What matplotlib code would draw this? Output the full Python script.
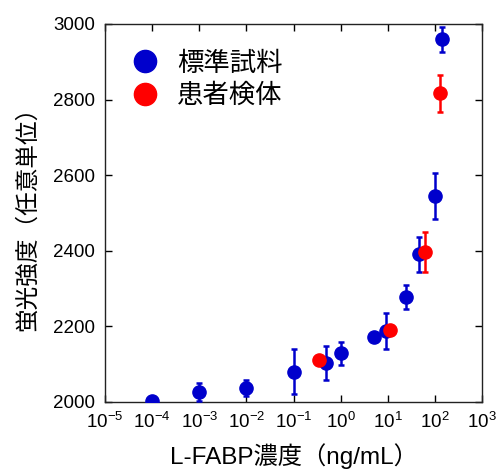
import matplotlib
matplotlib.use("Agg")
import matplotlib.pyplot as plt
import numpy as np

plt.rcParams['font.family'] = ['Liberation Sans', 'Noto Sans CJK JP', 'DejaVu Sans']
plt.rcParams['mathtext.fontset'] = 'custom'
plt.rcParams['mathtext.rm'] = 'Liberation Sans'
plt.rcParams['mathtext.it'] = 'Liberation Sans'
plt.rcParams['mathtext.default'] = 'regular'

std_x = [1e-4, 1e-3, 1e-2, 1e-1, 0.48, 1.0, 5.0, 9.0, 24, 45, 100, 140]
std_y = [2003, 2027, 2036, 2080, 2102, 2129, 2172, 2188, 2278, 2391, 2545, 2959]
std_err = [3, 24, 21, 60, 45, 30, 10, 47, 31, 46, 62, 33]

pat_x = [0.34, 11, 62, 128]
pat_y = [2111, 2190, 2398, 2817]
pat_err = [0, 0, 53, 49]

legend_labels = ['標準試料', '患者検体']
xlabel = 'L-FABP濃度（ng/mL）'
ylabel = '蛍光強度（任意単位）'

blue = '#0000CC'
red = '#FF0000'

fig = plt.figure(figsize=(4.96, 4.72), dpi=100)
ax = fig.add_axes([105/496, 1-402/472, 377/496, 378/472])

ax.errorbar(std_x, std_y, yerr=std_err, fmt='o', color=blue, ms=9.5, elinewidth=1.8,
            capsize=2.5, capthick=1.8, label=legend_labels[0], zorder=3)
ax.errorbar(pat_x, pat_y, yerr=pat_err, fmt='o', color=red, ms=9.5, elinewidth=1.8,
            capsize=2.5, capthick=1.8, label=legend_labels[1], zorder=4)

ax.set_xscale('log')
ax.set_xlim(1e-5, 1e3)
ax.set_ylim(2000, 3000)
ax.set_xticks([10.0**k for k in range(-5, 4)])
ax.xaxis.set_minor_locator(matplotlib.ticker.NullLocator())
ax.set_yticks([2000, 2200, 2400, 2600, 2800, 3000])
ax.tick_params(direction='in', top=True, right=True, length=5, width=1, labelsize=13.5, pad=7)
for s in ax.spines.values():
    s.set_linewidth(1)
    s.set_color('#222222')

ax.set_xlabel(xlabel, fontsize=17.5, labelpad=8)
ax.set_ylabel(ylabel, fontsize=17, labelpad=10)

h = [plt.Line2D([], [], marker='o', ls='', color=blue, ms=16),
     plt.Line2D([], [], marker='o', ls='', color=red, ms=16)]
ax.legend(h, legend_labels, loc='upper left', bbox_to_anchor=(0.009, 0.956), frameon=False,
          fontsize=19, handletextpad=0.2, labelspacing=0.3, borderaxespad=0.0)

fig.savefig('out.png', dpi=100)
